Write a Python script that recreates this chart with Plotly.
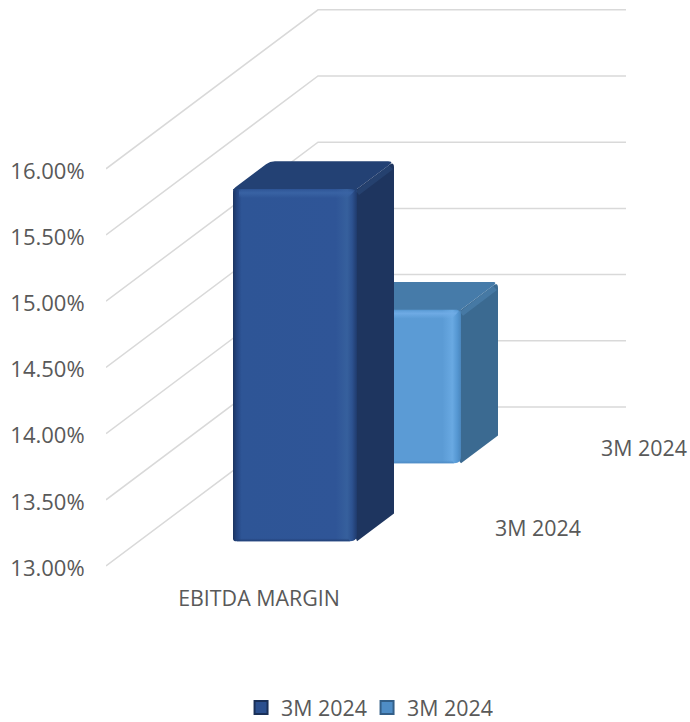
import plotly.graph_objects as go

categories = ["EBITDA MARGIN"]
series_names = ["3M 2024", "3M 2024"]
values = [15.66, 14.16]
y_ticks = [13.0, 13.5, 14.0, 14.5, 15.0, 15.5, 16.0]
y_tick_labels = ["13.00%", "13.50%", "14.00%", "14.50%", "15.00%", "15.50%", "16.00%"]

W, H = 690, 722
ML = 106            # left edge of the plot in px
Y0_PX = 566         # pixel of the axis minimum
PPU = 132.4         # px per percentage point
YMIN = 13.0
WALL_W = 308
DEPTH = 212
SLOPE = 0.75
BAR_L, BAR_W = 94, 124
BAR_D = 37
FRONT_D = [33, 137]

STY = [
    dict(front=[[0, "#1c3460"], [0.03, "#234480"], [0.07, "#2e5596"], [0.83, "#2f5597"], [0.92, "#36609d"],
                [0.96, "#2d5290"], [1, "#1f3a6c"]],
         top="#234174", side="#1e355f", hi="rgba(64,110,170,0.22)", strip="58,100,165", low="34,64,118"),
    dict(front=[[0, "#4a86c0"], [0.05, "#5b9bd5"], [0.85, "#5b9bd5"], [0.93, "#69a9e2"], [0.97, "#5597d2"],
                [1, "#4a86bd"]],
         top="#467ba9", side="#3b6a91", hi="rgba(100,160,215,0.28)", strip="112,172,230", low="78,140,198"),
]


def to_axes(pts):
    """(px-unit x, px-unit height above axis minimum) -> axis coordinates."""
    return [p[0] for p in pts], [YMIN + p[1] / PPU for p in pts]


def proj(u, d, h):
    return (u + d, h + d * SLOPE)


def rounded(pts, radii):
    out = []
    n = len(pts)
    for i, (p, r) in enumerate(zip(pts, radii)):
        if r <= 0:
            out.append(p)
            continue
        a, b = pts[i - 1], pts[(i + 1) % n]

        def toward(q):
            dx, dy = q[0] - p[0], q[1] - p[1]
            L = (dx * dx + dy * dy) ** 0.5
            return (p[0] + dx / L * r, p[1] + dy / L * r)
        s, e = toward(a), toward(b)
        for k in range(7):
            t = k / 6
            out.append(((1 - t) ** 2 * s[0] + 2 * t * (1 - t) * p[0] + t * t * e[0],
                        (1 - t) ** 2 * s[1] + 2 * t * (1 - t) * p[1] + t * t * e[1]))
    return out


def poly(pts, **kw):
    x, y = to_axes(pts)
    x.append(x[0]); y.append(y[0])
    return go.Scatter(x=x, y=y, mode="none", fill="toself", hoverinfo="skip", showlegend=False, **kw)


fig = go.Figure()

# gridlines: side wall + back wall
gx, gy = [], []
for t in y_ticks:
    h = (t - YMIN) * PPU
    xs, ys = to_axes([proj(0, 0, h), proj(0, DEPTH, h), proj(WALL_W, DEPTH, h)])
    gx += xs + [None]
    gy += ys + [None]
fig.add_trace(go.Scatter(x=gx, y=gy, mode="lines", line=dict(color="#d9d9d9", width=1.5),
                         hoverinfo="skip", showlegend=False))

# bars, back to front
for i in [1, 0]:
    st = STY[i]
    h = (values[i] - YMIN) * PPU
    d0, d1 = FRONT_D[i], FRONT_D[i] + BAR_D
    l, r = BAR_L, BAR_L + BAR_W
    fl_b, fr_b = proj(l, d0, 0), proj(r, d0, 0)
    fl_t, fr_t = proj(l, d0, h), proj(r, d0, h)
    bl_t, br_t = proj(l, d1, h), proj(r, d1, h)
    br_b = proj(r, d1, 0)

    # side and top faces share the corner under the front face's rounding
    fig.add_trace(poly(rounded([fr_b, br_b, br_t, fr_t, fl_t], [0, 0, 6, 0, 0]), fillcolor=st["side"]))
    fig.add_trace(poly(rounded([(fl_t[0], fl_t[1] - 6), fl_t, bl_t, br_t, fr_t, (fr_t[0], fr_t[1] - 6)],
                               [0, 3, 5, 6, 0, 0]), fillcolor=st["top"]))
    # bevel along the top-right depth edge
    fig.add_trace(poly([(fr_t[0] - 1, fr_t[1] - 2), (br_t[0] - 5, br_t[1] - 4),
                        (br_t[0] - 1, br_t[1] - 8), (fr_t[0] + 2, fr_t[1] - 6)], fillcolor=st["hi"]))
    fig.add_trace(poly(rounded([fl_b, fr_b, fr_t, fl_t], [3, 7, 6, 6]),
                       fillgradient=dict(type="horizontal", colorscale=st["front"])))
    # top and bottom bevels of the front face
    s, lo = st["strip"], st["low"]
    fig.add_trace(poly([(fl_t[0] + 6, fl_t[1] - 1), (fr_t[0] - 2, fr_t[1] - 1),
                        (fr_t[0] - 9, fr_t[1] - 9), (fl_t[0] + 6, fl_t[1] - 9)],
                       fillgradient=dict(type="vertical", colorscale=[[0, f"rgba({s},0)"], [0.65, f"rgba({s},0.9)"],
                                                                      [1, f"rgba({s},0.25)"]])))
    fig.add_trace(poly([(fl_b[0] + 4, fl_b[1]), (fr_b[0] - 7, fr_b[1]),
                        (fr_b[0] - 9, fr_b[1] + 3), (fl_b[0] + 4, fl_b[1] + 3)],
                       fillgradient=dict(type="vertical", colorscale=[[0, f"rgba({lo},1)"], [1, f"rgba({lo},0)"]])))

FONT = dict(family="Open Sans", size=21.4, color="#595959")
FONT_AX = dict(family="Open Sans", size=22, color="#595959")

# category and series (depth) axis labels
lab_x, lab_y, lab_t = [], [], []
cx, cy = to_axes([proj(WALL_W / 2 - 1, 0, -35)])
lab_x += cx; lab_y += cy; lab_t += categories
for i, name in enumerate(series_names):
    x, y = to_axes([proj(WALL_W + 71, (i + 0.5) * DEPTH / 2, -4)])
    lab_x += x; lab_y += y; lab_t.append(name)
fig.add_trace(go.Scatter(x=lab_x, y=lab_y, text=lab_t, mode="text", textposition="middle center",
                         textfont=FONT, hoverinfo="skip", showlegend=False, cliponaxis=False))

# legend entries
for name, c, edge in zip(series_names, ["#2b4f8e", "#4f8dc6"], ["#1a3058", "#335f88"]):
    fig.add_trace(go.Scatter(x=[None], y=[None], mode="markers", name=name,
                             marker=dict(symbol="square", size=13, color=c, line=dict(color=edge, width=2))))

fig.update_layout(
    width=W, height=H,
    margin=dict(l=ML, r=0, t=0, b=0, autoexpand=False),
    paper_bgcolor="white", plot_bgcolor="white",
    font=FONT,
    xaxis=dict(range=[0, W - ML], visible=False, fixedrange=True),
    yaxis=dict(range=[YMIN - (H - Y0_PX) / PPU, YMIN + Y0_PX / PPU],
               tickvals=y_ticks, ticktext=y_tick_labels,
               showgrid=False, zeroline=False, showline=False,
               ticks="outside", ticklen=16, tickcolor="rgba(0,0,0,0)", ticklabelshift=2,
               tickfont=FONT_AX, fixedrange=True),
    legend=dict(orientation="h", x=0.447, xref="paper", y=-0.0085, yanchor="bottom", xanchor="center",
                font=FONT, bgcolor="rgba(0,0,0,0)", traceorder="normal",
                entrywidth=81, entrywidthmode="pixels"),
    showlegend=True,
)
fig.write_html("out.html", post_script="document.body.style.margin='0';",
               config={"displayModeBar": False})
